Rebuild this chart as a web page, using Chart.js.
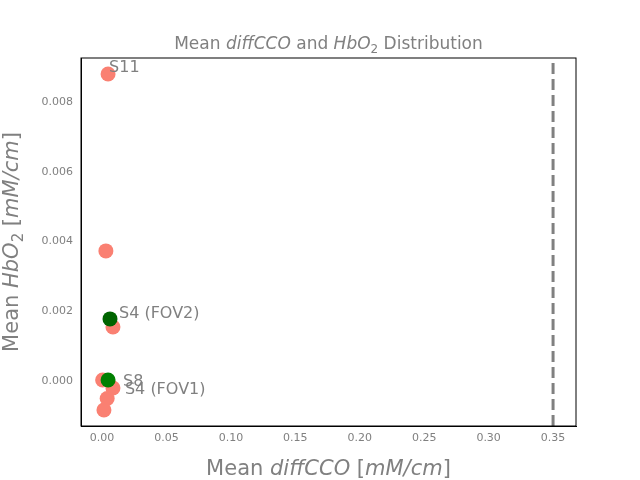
<!DOCTYPE html>
<html>
<head>
<script src="https://cdn.jsdelivr.net/npm/chart.js@4"></script>
<style>body{margin:0;background:#fff}</style>
</head>
<body>
<div style="width:640px;height:480px"><canvas id="c" width="640" height="480"></canvas></div>
<script>
const hbX = [0.0047, 0.003, 0.0085, 0.0005, 0.0085, 0.004, 0.0015];
const hbY = [0.0088, 0.00373, 0.00155, 0.00003, -0.0002, -0.0005, -0.00083];
const darkX = [0.0062];
const darkY = [0.00178];
const greenX = [0.0047];
const greenY = [0.00003];
const xTicks = [0, 0.05, 0.1, 0.15, 0.2, 0.25, 0.3, 0.35];
const yTicks = [0, 0.002, 0.004, 0.006, 0.008];
const labels = [
  { text: "S11", x: 0.0047, y: 0.0088, dx: 1, dy: -6 },
  { text: "S4 (FOV2)", x: 0.0062, y: 0.00178, dx: 9, dy: -5 },
  { text: "S8", x: 0.0047, y: 0.00003, dx: 15, dy: 2 },
  { text: "S4 (FOV1)", x: 0.0085, y: -0.0002, dx: 12, dy: 2 }
];
const grey = "#808080";
const pts = (xs, ys) => xs.map((x, i) => ({ x: x, y: ys[i] }));

function mixed(ctx, parts, size, cx, cy) {
  const fontOf = p => p[1] === "sub" ? Math.round(size * 0.7) + "px 'DejaVu Sans'" : p[1] + size + "px 'DejaVu Sans'";
  let w = 0;
  parts.forEach(p => { ctx.font = fontOf(p); w += ctx.measureText(p[0]).width; });
  let x = cx - w / 2;
  parts.forEach(p => {
    ctx.font = fontOf(p);
    ctx.fillText(p[0], x, p[1] === "sub" ? cy + size * 0.25 : cy);
    x += ctx.measureText(p[0]).width;
  });
}

const textPlugin = {
  id: "texts",
  afterDraw(chart) {
    const ctx = chart.ctx, xs = chart.scales.x, ys = chart.scales.y, a = chart.chartArea;
    ctx.save();
    ctx.fillStyle = grey;
    ctx.font = "16px 'DejaVu Sans'";
    ctx.textBaseline = "middle";
    labels.forEach(l => {
      ctx.fillText(l.text, xs.getPixelForValue(l.x) + l.dx, ys.getPixelForValue(l.y) + l.dy);
    });
    ctx.textBaseline = "alphabetic";
    mixed(ctx, [["Mean ", ""], ["diffCCO", "italic "], [" and ", ""], ["HbO", "italic "], ["2", "sub"], [" Distribution", ""]], 17, (a.left + a.right) / 2, 49);
    mixed(ctx, [["Mean ", ""], ["diffCCO", "italic "], [" [", ""], ["mM/cm", "italic "], ["]", ""]], 21, (a.left + a.right) / 2, 475);
    ctx.translate(18, (a.top + a.bottom) / 2);
    ctx.rotate(-Math.PI / 2);
    mixed(ctx, [["Mean ", ""], ["HbO", "italic "], ["2", "sub"], [" [", ""], ["mM/cm", "italic "], ["]", ""]], 21, 0, 0);
    ctx.restore();
  }
};

new Chart(document.getElementById("c"), {
  type: "scatter",
  data: {
    datasets: [
      { data: pts(darkX, darkY), backgroundColor: "#006400", borderWidth: 0, pointRadius: 7.5 },
      { data: pts(greenX, greenY), backgroundColor: "#008000", borderWidth: 0, pointRadius: 7.5 },
      { data: pts(hbX, hbY), backgroundColor: "#fa8072", borderWidth: 0, pointRadius: 7.5 },
      { type: "line", data: [{ x: 0.35, y: -0.00129 }, { x: 0.35, y: 0.00926 }], borderColor: grey, borderWidth: 3, borderDash: [11, 5], pointRadius: 0 }
    ]
  },
  options: {
    responsive: false,
    animation: false,
    layout: { padding: { top: 58, right: 64, left: 0, bottom: 0 } },
    plugins: { legend: { display: false }, tooltip: { enabled: false } },
    scales: {
      x: {
        min: -0.0163, max: 0.3678,
        afterBuildTicks: s => { s.ticks = xTicks.map(v => ({ value: v })); },
        afterFit: s => { s.height = 54; },
        ticks: { color: grey, font: { size: 11, family: "DejaVu Sans" }, padding: 2, callback: v => v.toFixed(2) },
        grid: { display: false, drawTicks: true, tickLength: 4, tickColor: "#000" },
        border: { color: "#000" }
      },
      y: {
        min: -0.00129, max: 0.00926,
        afterBuildTicks: s => { s.ticks = yTicks.map(v => ({ value: v })); },
        afterFit: s => { s.width = 81; },
        ticks: { color: grey, font: { size: 11, family: "DejaVu Sans" }, padding: 4, callback: v => v.toFixed(3) },
        grid: { display: false, drawTicks: true, tickLength: 4, tickColor: "#000" },
        border: { color: "#000" }
      }
    }
  },
  plugins: [textPlugin, {
    id: "frame",
    afterDraw(chart) {
      const a = chart.chartArea, ctx = chart.ctx;
      ctx.save(); ctx.strokeStyle = "#000"; ctx.lineWidth = 1;
      ctx.strokeRect(a.left, a.top, a.right - a.left, a.bottom - a.top);
      ctx.restore();
    }
  }]
});
</script>
</body>
</html>
